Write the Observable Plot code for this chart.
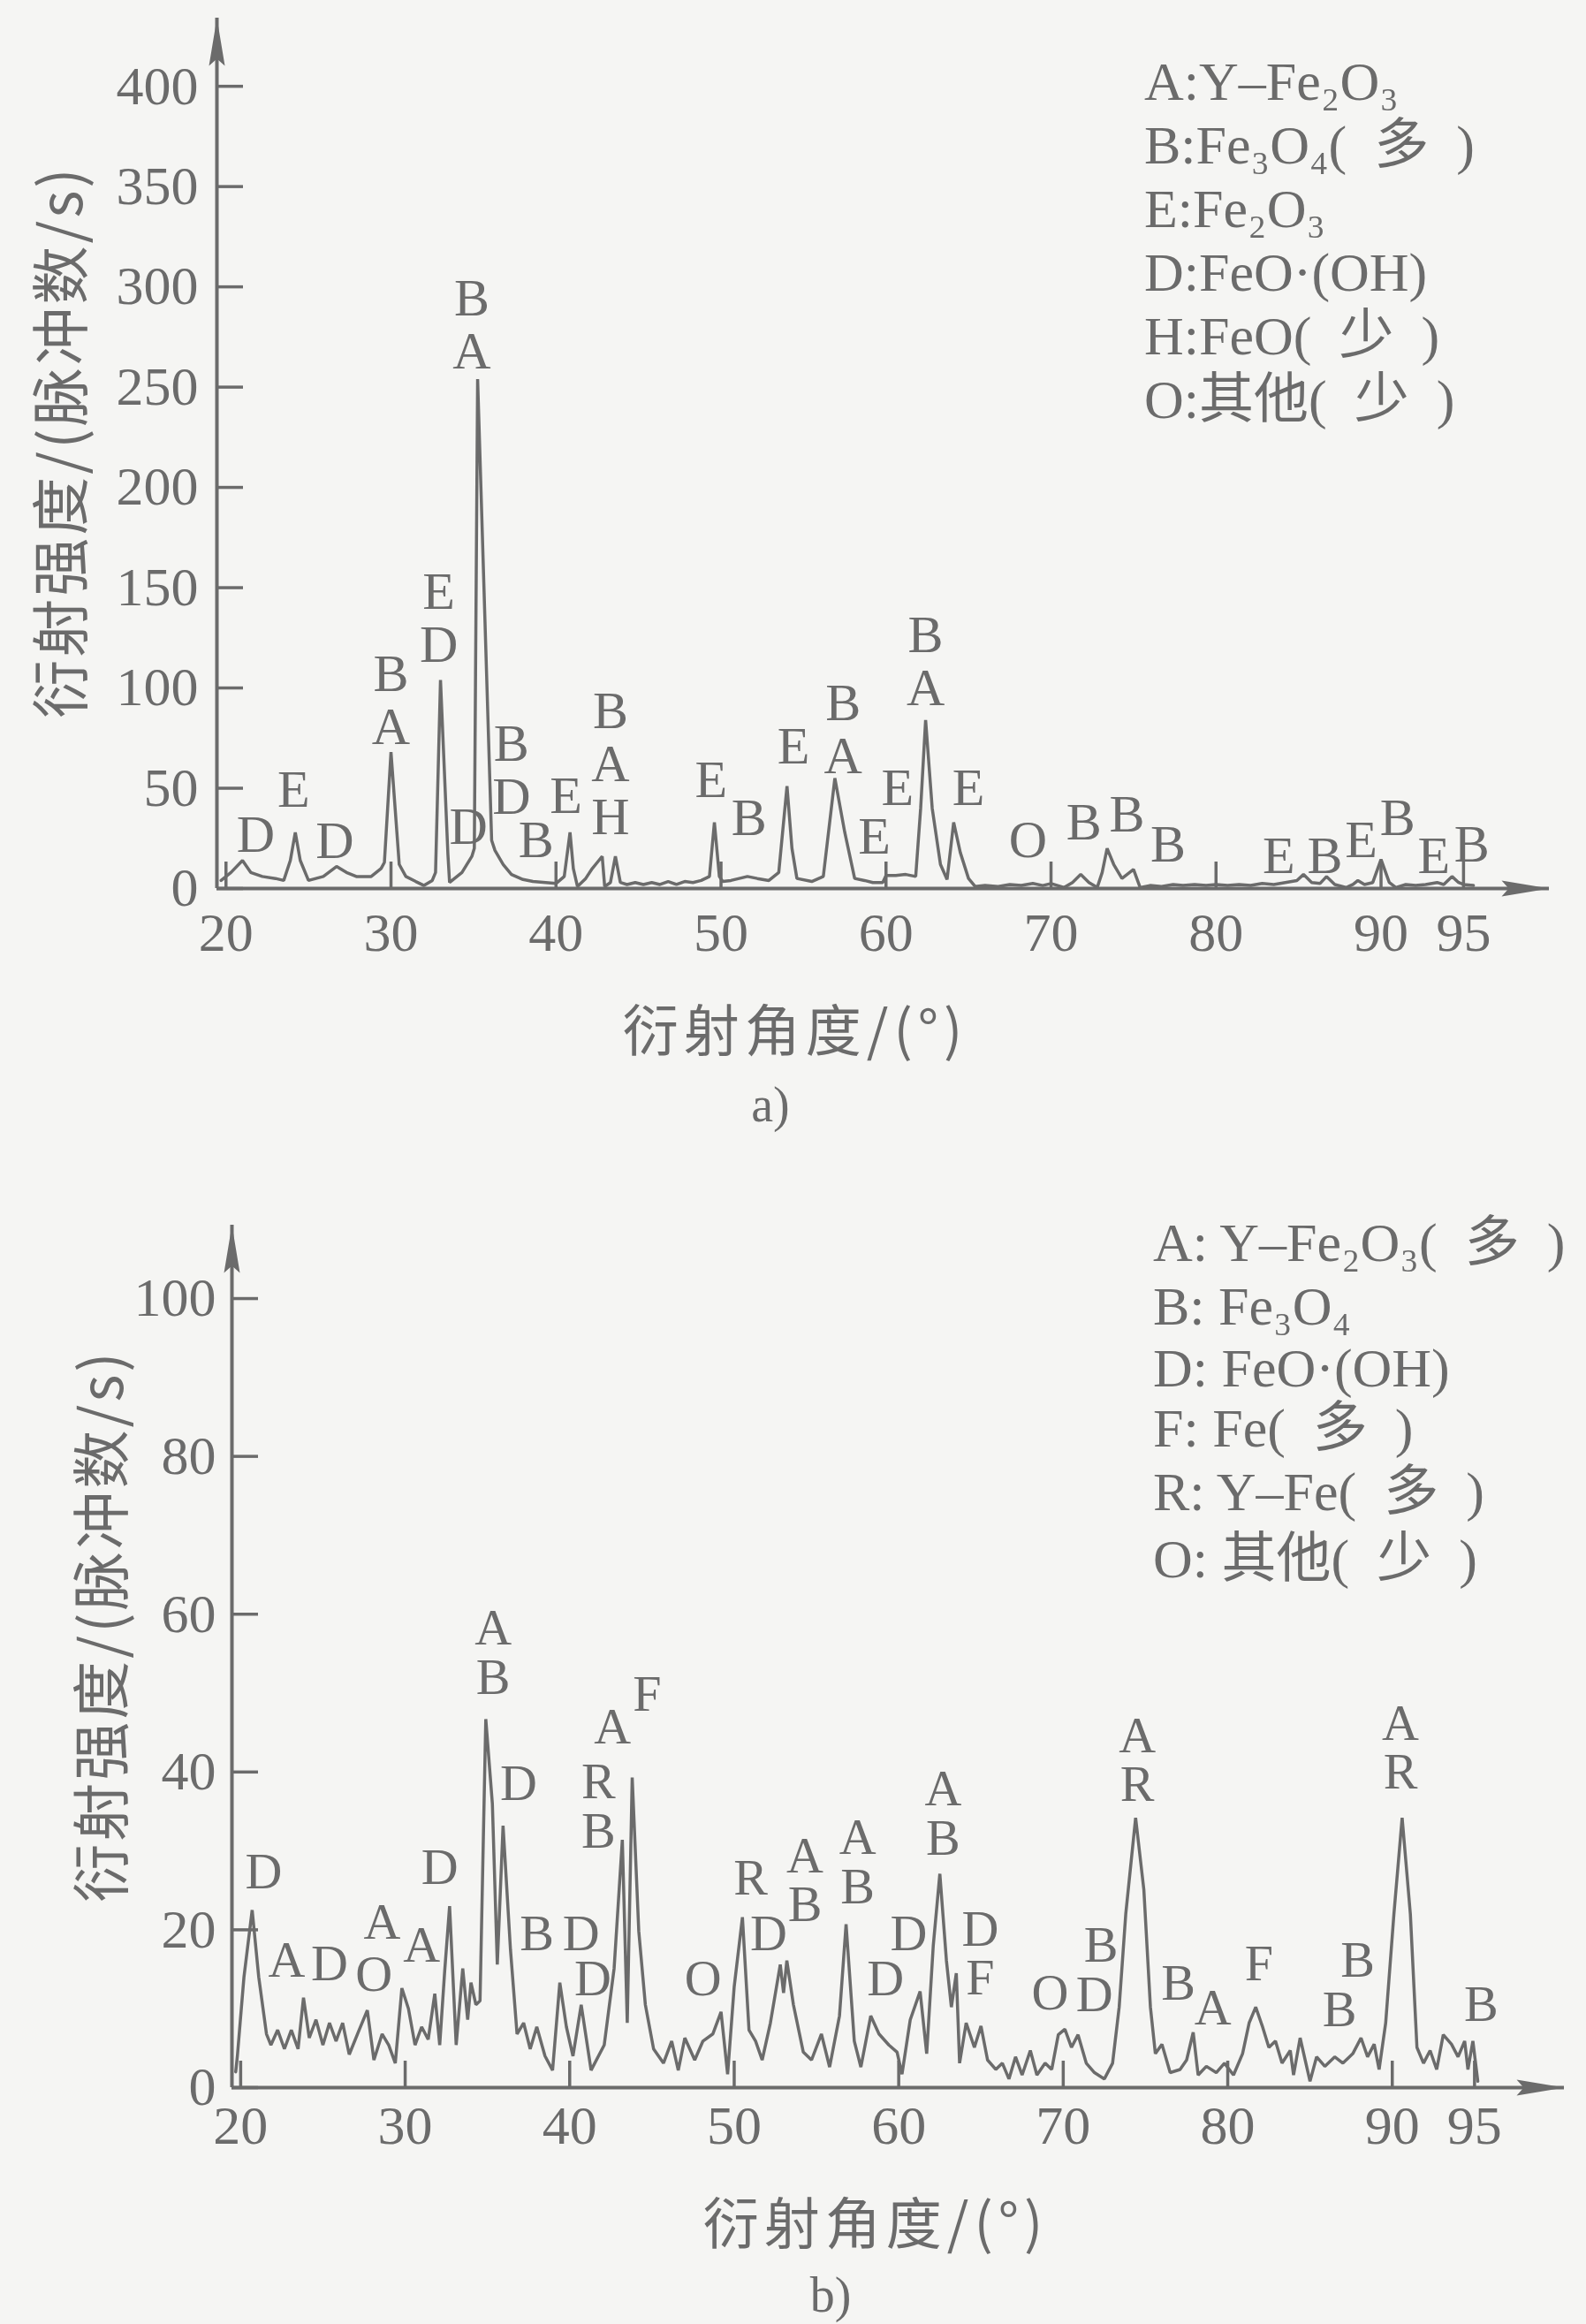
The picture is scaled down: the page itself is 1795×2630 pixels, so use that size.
<!DOCTYPE html>
<html>
<head>
<meta charset="utf-8">
<script src="https://cdn.jsdelivr.net/npm/d3@7"></script>
<script src="https://cdn.jsdelivr.net/npm/@observablehq/plot@0.6"></script>
<style>
  html, body { margin: 0; padding: 0; background: #f5f5f3; }
  #page { position: relative; width: 1795px; height: 2630px; overflow: hidden; background: #f5f5f3;
          font-family: "Liberation Serif", "Noto Sans CJK SC", serif; color: #6b6b6b; }
  .abs { position: absolute; }
  .lg { font-size: 62px; line-height: 62px; white-space: nowrap; transform: translateY(-50%); }
  .xtitle { font-family: "Noto Sans CJK SC", sans-serif; font-size: 63px; letter-spacing: 6px; white-space: nowrap; transform: translate(-50%, -50%); }
  .ytitle { font-family: "Noto Sans CJK SC", sans-serif; font-size: 66px; letter-spacing: 3px; white-space: nowrap; transform: translate(-50%, -50%) rotate(-90deg); }
  .cap { font-size: 56px; transform: translate(-50%, -50%); }
  svg { overflow: visible; }
</style>
</head>
<body>
<div id="page">
  <div id="chartA" class="abs" style="left:0;top:0"></div>
  <div id="chartB" class="abs" style="left:0;top:1330px"></div>

  <div class="abs lg" style="left:1295px;top:92px">A:Y–Fe₂O₃</div>
  <div class="abs lg" style="left:1295px;top:164px">B:Fe₃O₄(&#8194;多&#8194;)</div>
  <div class="abs lg" style="left:1295px;top:236px">E:Fe₂O₃</div>
  <div class="abs lg" style="left:1295px;top:308px">D:FeO·(OH)</div>
  <div class="abs lg" style="left:1295px;top:380px">H:FeO(&#8194;少&#8194;)</div>
  <div class="abs lg" style="left:1295px;top:452px">O:其他(&#8194;少&#8194;)</div>

  <div class="abs lg" style="left:1305px;top:1406px">A: Y–Fe₂O₃(&#8194;多&#8194;)</div>
  <div class="abs lg" style="left:1305px;top:1478px">B: Fe₃O₄</div>
  <div class="abs lg" style="left:1305px;top:1548px">D: FeO·(OH)</div>
  <div class="abs lg" style="left:1305px;top:1616px">F: Fe(&#8194;多&#8194;)</div>
  <div class="abs lg" style="left:1305px;top:1688px">R: Y–Fe(&#8194;多&#8194;)</div>
  <div class="abs lg" style="left:1305px;top:1764px">O: 其他(&#8194;少&#8194;)</div>

  <div class="abs ytitle" style="left:64px;top:500px">衍射强度/(脉冲数/s)</div>
  <div class="abs xtitle" style="left:900px;top:1161px">衍射角度/(°)</div>
  <div class="abs cap" style="left:872px;top:1250px">a)</div>

  <div class="abs ytitle" style="left:110px;top:1840px">衍射强度/(脉冲数/s)</div>
  <div class="abs xtitle" style="left:991px;top:2511px">衍射角度/(°)</div>
  <div class="abs cap" style="left:940px;top:2597px">b)</div>
</div>
<script>
// ---------- data ----------
const xTicks = [20, 30, 40, 50, 60, 70, 80, 90, 95];
const topYTicks = [0, 50, 100, 150, 200, 250, 300, 350, 400];
const botYTicks = [0, 20, 40, 60, 80, 100];

// pattern a): [diffraction angle (°), intensity (counts/s)]
const patternA = [
  [19.7, 4], [20.3, 8], [21.0, 14], [21.5, 8], [22.2, 6], [23.0, 5], [23.5, 4], [23.9, 14], [24.2, 28], [24.5, 14],
  [25.0, 4], [25.9, 6], [26.7, 11], [27.3, 8], [27.9, 6], [28.8, 6], [29.4, 10], [29.6, 13], [30.0, 68], [30.5, 12],
  [30.9, 6], [31.5, 3.5], [32.0, 1.5], [32.5, 4], [32.7, 8], [33.0, 104], [33.45, 17], [33.55, 3], [34.3, 8], [34.9, 16],
  [35.05, 20], [35.25, 254], [36.1, 24], [36.3, 19], [36.8, 12], [37.3, 7], [38.0, 4.5], [38.6, 3.5], [40.0, 2.5], [40.5, 6],
  [40.85, 28], [41.05, 10], [41.3, 1], [41.8, 5], [42.2, 10], [42.5, 13], [42.8, 16], [42.95, 1], [43.3, 3], [43.6, 16],
  [43.9, 3], [44.3, 2], [44.8, 3], [45.3, 2], [45.8, 3], [46.3, 2], [46.8, 3.5], [47.3, 2], [47.8, 3.5], [48.3, 3],
  [48.8, 4], [49.3, 6], [49.6, 33], [49.9, 6], [50.1, 3.5], [50.6, 4], [51.1, 5], [51.6, 6], [52.2, 5], [52.9, 4],
  [53.5, 8], [54.0, 51], [54.3, 20], [54.6, 5], [55.5, 3.5], [56.2, 6], [56.9, 55], [57.5, 28], [58.1, 5], [58.7, 4],
  [59.2, 3], [59.8, 3], [60.0, 6.5], [60.6, 6.5], [61.2, 7], [61.8, 6], [62.1, 40], [62.4, 84], [62.8, 40], [63.3, 12],
  [63.7, 4.5], [64.1, 33], [64.5, 18], [65.0, 5], [65.4, 1], [66.0, 1.5], [66.8, 1], [67.5, 2], [68.2, 1.5], [68.9, 2.5],
  [69.5, 1.5], [70.0, 2.5], [70.8, 0.5], [71.3, 3], [71.8, 7], [72.3, 3], [72.8, 0.5], [73.1, 8], [73.4, 20], [73.8, 12],
  [74.3, 5], [75.0, 9.5], [75.4, 0.5], [76.0, 1.5], [76.7, 1], [77.4, 2], [78.0, 1.5], [78.7, 2], [79.4, 1.5], [80.0, 2],
  [80.7, 1.5], [81.4, 2], [82.1, 1.5], [82.8, 2.5], [83.5, 2], [84.2, 3], [84.9, 4], [85.3, 7], [85.8, 3], [86.3, 2.5],
  [86.7, 6], [87.2, 2], [87.9, 0.5], [88.3, 2], [88.6, 4], [89.0, 2], [89.5, 3], [90.0, 14.5], [90.5, 3], [90.9, 0.5],
  [91.5, 2], [92.1, 1.5], [92.7, 2], [93.4, 3], [93.8, 2], [94.3, 6], [94.7, 3], [95.0, 2], [95.6, 1.5]
];

// pattern b)
const patternB = [
  [19.7, 2], [19.8, 4], [20.2, 14], [20.7, 22.5], [21.1, 14], [21.57, 6.8], [21.84, 5.4], [22.25, 7.3], [22.66, 4.9], [23.08, 7.3],
  [23.49, 4.9], [23.82, 11.4], [24.17, 6.3], [24.58, 8.6], [25.0, 5.4], [25.4, 8.2], [25.8, 5.9], [26.2, 8.2], [26.6, 4.2], [27.2, 7.3],
  [27.7, 9.8], [28.1, 3.5], [28.6, 6.8], [29.0, 5.4], [29.4, 3.1], [29.8, 12.6], [30.2, 10.0], [30.6, 5.4], [31.0, 7.7], [31.4, 6.1],
  [31.8, 11.9], [32.1, 5.4], [32.4, 14.7], [32.7, 23.0], [33.1, 5.4], [33.5, 15.1], [33.8, 8.6], [34.0, 13.3], [34.3, 10.5], [34.55, 11],
  [34.9, 46.7], [35.3, 36.0], [35.6, 15.6], [35.95, 33.2], [36.4, 17.5], [36.8, 6.8], [37.2, 8.2], [37.6, 4.9], [38.0, 7.7], [38.5, 4.0],
  [38.96, 2.2], [39.4, 13.3], [39.8, 7.7], [40.2, 4.0], [40.7, 10.5], [41.3, 2.2], [42.1, 5.4], [42.7, 15.1], [43.2, 31.4], [43.5, 8.2],
  [43.8, 39.3], [44.2, 19.8], [44.6, 10.5], [45.1, 4.9], [45.7, 3.1], [46.2, 5.9], [46.6, 2.2], [47.0, 6.3], [47.6, 3.5], [48.1, 5.9],
  [48.7, 6.8], [49.2, 9.6], [49.6, 1.7], [50.0, 12.8], [50.5, 21.6], [50.9, 7.3], [51.3, 5.9], [51.7, 3.5], [52.2, 8.2], [52.8, 15.6],
  [53.0, 12], [53.2, 16.1], [53.6, 10.5], [54.2, 4.5], [54.7, 3.5], [55.3, 6.8], [55.8, 2.6], [56.4, 9.1], [56.8, 20.7], [57.3, 5.9],
  [57.7, 2.6], [58.3, 9.1], [58.8, 6.8], [59.4, 5.4], [59.9, 4.5], [60.2, 1.7], [60.7, 8.6], [61.3, 12.2], [61.7, 4.3], [62.1, 18.0],
  [62.5, 27.1], [62.9, 16.1], [63.2, 10.2], [63.5, 14.5], [63.7, 3.1], [64.1, 8.2], [64.6, 5.1], [65.0, 7.8], [65.4, 3.5], [65.9, 2.3],
  [66.3, 3.1], [66.7, 1.1], [67.1, 3.9], [67.5, 1.6], [68.0, 4.7], [68.4, 1.6], [68.9, 3.1], [69.3, 2.3], [69.7, 6.7], [70.1, 7.4],
  [70.5, 5.1], [70.9, 6.7], [71.4, 3.1], [71.9, 1.9], [72.5, 1.1], [73.0, 3.1], [73.4, 10.2], [73.8, 22.0], [74.4, 34.2], [74.9, 25.1],
  [75.3, 10.2], [75.6, 4.3], [76.0, 5.5], [76.5, 1.9], [77.1, 2.3], [77.5, 3.5], [77.9, 7.0], [78.2, 1.6], [78.7, 2.7], [79.3, 1.9],
  [79.8, 3.1], [80.35, 1.6], [80.9, 4.3], [81.3, 8.2], [81.7, 10.2], [82.1, 7.8], [82.5, 5.1], [82.9, 5.9], [83.3, 3.1], [83.8, 4.7],
  [84.0, 1.6], [84.4, 6.3], [85.0, 0.8], [85.4, 3.9], [85.9, 2.7], [86.5, 3.9], [87.0, 3.1], [87.6, 4.3], [88.1, 6.3], [88.5, 3.9],
  [88.9, 5.5], [89.2, 2.3], [89.6, 8.2], [90.1, 22.0], [90.6, 34.2], [91.1, 22.0], [91.5, 5.1], [91.9, 3.1], [92.3, 4.7], [92.7, 2.3],
  [93.1, 6.7], [93.6, 5.5], [94.0, 3.9], [94.4, 5.9], [94.6, 2.3], [94.9, 5.9], [95.2, 0.8]
];

// phase letters (stacked letters share one entry): [angle, intensity at centre, letters]
const labelsA = [
  [21.8, 26.6, "D"], [24.1, 49, "E"], [26.6, 23.7, "D"], [30.0, 93.5, "B\nA"],
  [32.9, 134.5, "E\nD"], [34.7, 30.5, "D"], [34.9, 281, "B\nA"],
  [37.3, 58.9, "B\nD"], [38.8, 24, "B"], [40.6, 46, "E"], [43.3, 62, "B\nA\nH"],
  [49.4, 54, "E"], [51.7, 35, "B"], [54.4, 71, "E"],
  [57.4, 79, "B\nA"], [59.3, 26, "E"], [60.7, 50, "E"], [62.4, 113, "B\nA"],
  [65.0, 50, "E"], [68.6, 24, "O"], [72.0, 33, "B"], [74.6, 37, "B"],
  [77.1, 22, "B"], [83.8, 16, "E"], [86.6, 16, "B"], [88.8, 24, "E"], [91.0, 35, "B"],
  [93.2, 16, "E"], [95.5, 22, "B"]
];
const labelsB = [
  [21.4, 27.2, "D"], [22.8, 16.1, "A"], [25.4, 15.6, "D"], [28.1, 14.3, "O"], [28.6, 20.9, "A"],
  [31.0, 18.0, "A"], [32.1, 27.8, "D"], [35.35, 55.0, "A\nB"], [36.9, 38.5, "D"],
  [38.0, 19.4, "B"], [40.7, 19.4, "D"], [41.4, 13.7, "D"], [41.75, 35.5, "R\nB"],
  [42.6, 45.6, "A"], [44.7, 49.8, "F"], [48.1, 13.7, "O"], [51.0, 26.5, "R"], [52.1, 19.4, "D"],
  [54.3, 26.2, "A\nB"], [57.5, 28.5, "A\nB"], [59.2, 13.7, "D"],
  [60.6, 19.4, "D"], [62.7, 34.65, "A\nB"], [64.95, 16.9, "D\nF"],
  [69.2, 11.9, "O"], [71.9, 11.7, "D"], [72.3, 18.0, "B"], [74.5, 41.4, "A\nR"],
  [77.0, 13.1, "B"], [79.1, 10.0, "A"], [81.9, 15.6, "F"], [86.8, 9.8, "B"], [87.9, 16.1, "B"],
  [90.5, 43.0, "A\nR"], [95.4, 10.5, "B"]
];

// ---------- drawing ----------
const INK = "#6b6b6b";
const SERIF = "'Liberation Serif', 'Times New Roman', serif";
const arrowHead = { draw(ctx) { ctx.moveTo(0, 0); ctx.lineTo(-9, 54); ctx.lineTo(0, 46); ctx.lineTo(9, 54); ctx.closePath(); } };

function xrd(c) {
  return Plot.plot({
    width: 1795, height: c.height,
    marginLeft: c.mL, marginRight: c.mR, marginTop: c.mT, marginBottom: c.mB,
    style: { background: "transparent", color: INK, fontFamily: SERIF, overflow: "visible" },
    x: { domain: c.xDomain },
    y: { domain: c.yDomain },
    marks: [
      Plot.axisX(xTicks, { tickSize: -30, tickPadding: c.xPad, fontSize: 62, strokeWidth: 3.5, label: null }),
      Plot.axisY(c.yTicks, { tickSize: -30, tickPadding: c.yPad, fontSize: 62, strokeWidth: 3.5, label: null }),
      Plot.ruleY([0], { x1: c.xDomain[0], x2: c.xDomain[1], stroke: INK, strokeWidth: 4 }),
      Plot.ruleX([c.xDomain[0]], { y1: 0, y2: c.yDomain[1], stroke: INK, strokeWidth: 4 }),
      Plot.dot([0], { x: c.xDomain[1], y: 0, symbol: arrowHead, rotate: 90, fill: INK, stroke: "none" }),
      Plot.dot([0], { x: c.xDomain[0], y: c.yDomain[1], symbol: arrowHead, fill: INK, stroke: "none" }),
      Plot.line(c.pattern, { x: d => d[0], y: d => d[1], stroke: INK, strokeWidth: 3.5, strokeLinejoin: "miter" }),
      Plot.text(c.labels, { x: d => d[0], y: d => d[1], text: d => d[2], fontSize: c.fs, lineHeight: c.lh, fill: INK, fontFamily: SERIF })
    ]
  });
}

document.getElementById("chartA").append(xrd({
  height: 1090, mL: 245, mR: 42, mT: 20, mB: 85,
  xDomain: [19.45, 100.2], yDomain: [0, 434],
  yTicks: topYTicks, xPad: 56, yPad: 51, fs: 60, lh: 1.0,
  pattern: patternA, labels: labelsA
}));
document.getElementById("chartB").append(xrd({
  height: 1100, mL: 262, mR: 25, mT: 56, mB: 68,
  xDomain: [19.47, 100.46], yDomain: [0, 109.3],
  yTicks: botYTicks, xPad: 49, yPad: 48, fs: 58, lh: 0.96,
  pattern: patternB, labels: labelsB
}));
</script>
</body>
</html>
